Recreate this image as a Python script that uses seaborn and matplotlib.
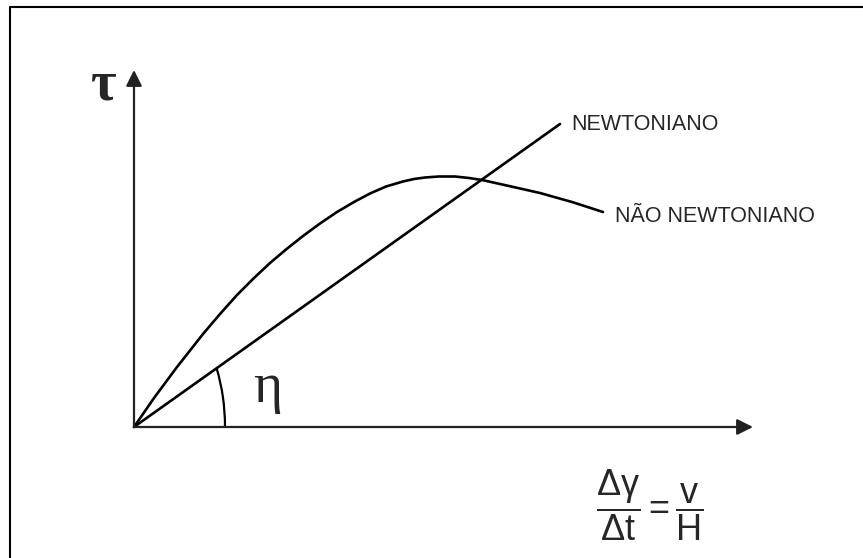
import numpy as np
import matplotlib
matplotlib.use("Agg")
import matplotlib.pyplot as plt
from matplotlib.patches import Arc
from matplotlib.lines import Line2D
import seaborn as sns

# shear rate (x) vs shear stress (y), arbitrary units, origin at the axes corner
NEWT_X = [0.0, 4.26]
NEWT_Y = [0.0, 3.03]

NON_NEWT_X = [0.0, 0.20, 0.43, 0.69, 0.86, 1.03, 1.20, 1.36, 1.52, 1.69, 1.86,
              2.03, 2.20, 2.36, 2.52, 2.69, 2.80, 2.91, 3.05, 3.21, 3.35, 3.48,
              3.75, 4.06, 4.38, 4.69]
NON_NEWT_Y = [0.0, 0.29, 0.60, 0.93, 1.13, 1.32, 1.49, 1.64, 1.775, 1.91, 2.035,
              2.15, 2.25, 2.335, 2.405, 2.455, 2.48, 2.495, 2.505, 2.505, 2.49, 2.47,
              2.41, 2.34, 2.25, 2.15]

AXIS_X_END = 6.19
AXIS_Y_END = 3.57

LABEL_NEWT = "NEWTONIANO"
LABEL_NON_NEWT = "NÃO NEWTONIANO"
LABEL_Y = "τ"
LABEL_ANGLE = "η"
LABEL_X = r"$\dfrac{\Delta\gamma}{\Delta t}=\dfrac{v}{H}$"

sns.set_theme(style="white")
plt.rcParams["font.family"] = ["Liberation Sans", "DejaVu Sans"]
plt.rcParams["mathtext.fontset"] = "custom"
plt.rcParams["mathtext.rm"] = "Liberation Sans"
plt.rcParams["mathtext.it"] = "Liberation Sans"

fig = plt.figure(figsize=(8.63, 5.58), dpi=100)
ax = fig.add_axes([0, 0, 1, 1])
ax.set_xlim(-1.34, 7.29)
ax.set_ylim(-1.31, 4.27)
ax.axis("off")

# outer frame (left and top edges visible)
fig.add_artist(Line2D([10 / 863, 10 / 863], [0, 1 - 7 / 558], transform=fig.transFigure,
                      color="black", lw=1.5))
fig.add_artist(Line2D([10 / 863, 1], [1 - 7 / 558, 1 - 7 / 558], transform=fig.transFigure,
                      color="black", lw=1.5))

# axes with arrows
arrow = dict(arrowstyle="-|>", color="#222222", lw=1.6, mutation_scale=24,
             shrinkA=0, shrinkB=0)
ax.annotate("", xy=(AXIS_X_END, 0), xytext=(0, 0), arrowprops=arrow)
ax.annotate("", xy=(0, AXIS_Y_END), xytext=(0, 0), arrowprops=arrow)

sns.lineplot(x=NEWT_X, y=NEWT_Y, ax=ax, color="black", lw=1.9, sort=False, estimator=None)
sns.lineplot(x=NON_NEWT_X, y=NON_NEWT_Y, ax=ax, color="black", lw=1.9, sort=False,
             estimator=None)

# angle arc between x axis and the newtonian line
ang = np.degrees(np.arctan2(NEWT_Y[-1], NEWT_X[-1]))
ax.add_patch(Arc((0, 0), 1.82, 2.8, theta1=0, theta2=ang, color="black", lw=1.6))

ax.text(NEWT_X[-1] + 0.11, NEWT_Y[-1], LABEL_NEWT, ha="left", va="center", fontsize=15.5)
ax.text(NON_NEWT_X[-1] + 0.12, NON_NEWT_Y[-1] - 0.05, LABEL_NON_NEWT, ha="left",
        va="center", fontsize=15.5)
ax.text(-0.30, 3.42, LABEL_Y, ha="center", va="center", fontsize=40, fontweight="bold",
        family=["Liberation Serif", "DejaVu Serif"])
ax.text(1.34, 0.39, LABEL_ANGLE, ha="center", va="center", fontsize=40,
        family=["Liberation Serif", "DejaVu Serif"])
ax.text(5.16, -0.78, LABEL_X, ha="center", va="center", fontsize=26)

fig.savefig("out.png", dpi=100)
